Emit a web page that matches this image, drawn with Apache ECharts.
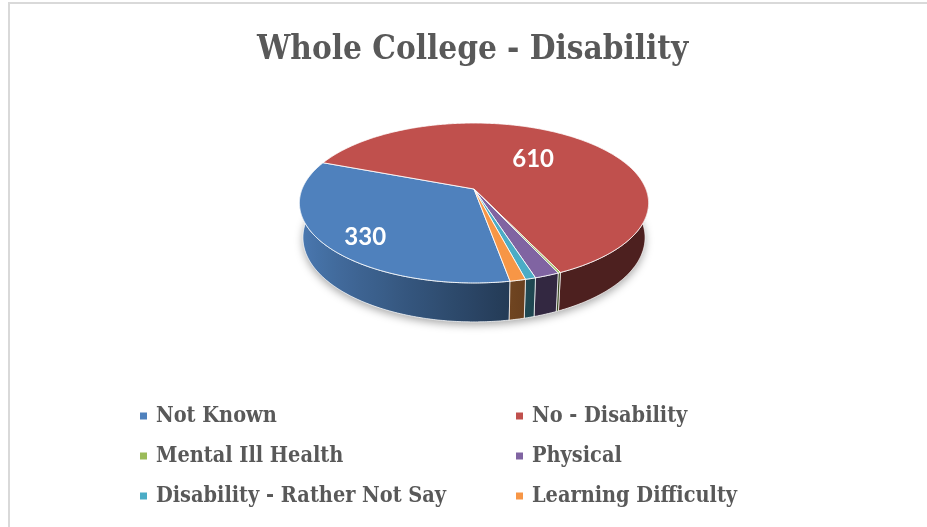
<!DOCTYPE html>
<html>
<head>
<meta charset="utf-8">
<title>Whole College - Disability</title>
<script src="https://cdn.jsdelivr.net/npm/echarts@6/dist/echarts.min.js"></script>
<style>
  html, body { margin: 0; padding: 0; background: #ffffff; }
  #chart { width: 927px; height: 527px; }
</style>
</head>
<body>
<div id="chart"></div>
<script>
// Student counts by disability status, whole college
const categories = ['Not Known', 'No - Disability', 'Mental Ill Health', 'Physical', 'Disability - Rather Not Say', 'Learning Difficulty'];
const counts = [330, 610, 2, 19, 8, 12];
const sliceColors = ['#4F81BD', '#C0504D', '#9BBB59', '#8064A2', '#4BACC6', '#F79646'];
const chartTitle = 'Whole College - Disability';

const total = counts.reduce((s, v) => s + v, 0);

// Perspective view of a flat disc (radius 1) seen from above and in front
const view = {
  centerX: 474,
  centerY: 189,
  focal: 878.5,
  distance: 5.11,
  tiltDeg: 26.8,
  thickness: 0.227,
  startDeg: 170          // first slice starts here, clockwise from the back
};
const cosT = Math.cos(view.tiltDeg * Math.PI / 180);
const sinT = Math.sin(view.tiltDeg * Math.PI / 180);

// x to the right, y away from the viewer, z up
function project(x, y, z) {
  const depth = view.distance + y * cosT - z * sinT;
  const up = y * sinT + z * cosT;
  return [view.centerX + view.focal * x / depth, view.centerY - view.focal * up / depth];
}
function rimPoint(deg, z) {
  const r = deg * Math.PI / 180;
  return project(Math.sin(r), Math.cos(r), z);
}
function arcAngles(a, b) {
  const n = Math.max(2, Math.ceil((b - a) / 0.5));
  const out = [];
  for (let k = 0; k <= n; k++) out.push(a + (b - a) * k / n);
  return out;
}
function darken(hex, f) {
  const n = parseInt(hex.slice(1), 16);
  const r = Math.round(((n >> 16) & 255) * f);
  const g = Math.round(((n >> 8) & 255) * f);
  const b = Math.round((n & 255) * f);
  return 'rgb(' + r + ',' + g + ',' + b + ')';
}
// light comes from the left: the side wall brightens as it turns left
function wallShade(deg) {
  const s = Math.sin(deg * Math.PI / 180);
  return s >= 0.3 ? 0.40 : 0.40 + (0.3 - s) * 0.43;
}
// label placement inside the top face: [radius, angle shift]
function labelSpot(share) {
  return share > 0.5 ? [0.55, -1] : [0.8, -5];
}

function renderSlice(params, api) {
  const idx = params.seriesIndex;
  const value = api.value(0);
  const color = sliceColors[idx];
  let before = 0;
  for (let i = 0; i < idx; i++) before += counts[i];
  const a = view.startDeg + before / total * 360;
  const b = a + value / total * 360;
  const children = [];

  if (idx === 0) {
    // soft shadow under the whole disc
    const base = arcAngles(0, 360).map(d => rimPoint(d, -view.thickness));
    children.push({
      type: 'polygon', z2: 0, silent: true,
      shape: { points: base },
      style: { fill: '#ffffff', shadowBlur: 9, shadowOffsetY: 3, shadowColor: 'rgba(0,0,0,0.35)' }
    });
  }

  // front-facing side walls
  [[88, 272], [448, 632]].forEach(([lo, hi]) => {
    const s = Math.max(a, lo), e = Math.min(b, hi);
    if (e - s <= 0) return;
    const angles = arcAngles(s, e);
    const top = angles.map(d => rimPoint(d, 0));
    const bottom = angles.map(d => rimPoint(d, -view.thickness)).reverse();
    const pts = top.concat(bottom);
    const xs = pts.map(p => p[0]);
    const minX = Math.min.apply(null, xs), maxX = Math.max.apply(null, xs);
    const span = Math.max(maxX - minX, 1e-6);
    const stops = angles
      .filter((_, k) => k % 8 === 0 || k === angles.length - 1)
      .map(d => ({
        offset: Math.min(1, Math.max(0, (rimPoint(d, 0)[0] - minX) / span)),
        color: darken(color, wallShade(d))
      }))
      .sort((p, q) => p.offset - q.offset);
    children.push({
      type: 'polygon', z2: 2,
      shape: { points: pts },
      style: {
        fill: new echarts.graphic.LinearGradient(0, 0, 1, 0, stops),
        stroke: 'rgba(255,255,255,0.7)', lineWidth: 1
      }
    });
  });

  // top face
  const topPts = [project(0, 0, 0)].concat(arcAngles(a, b).map(d => rimPoint(d, 0)));
  children.push({
    type: 'polygon', z2: 10,
    shape: { points: topPts },
    style: { fill: color, stroke: 'rgba(255,255,255,0.85)', lineWidth: 1 }
  });

  // value label
  const share = value / total;
  if (share >= 0.05) {
    const spot = labelSpot(share);
    const mid = ((a + b) / 2 + spot[1]) * Math.PI / 180;
    const p = project(spot[0] * Math.sin(mid), spot[0] * Math.cos(mid), 0);
    children.push({
      type: 'text', z2: 20, x: p[0], y: p[1],
      style: {
        text: String(value), fill: '#ffffff',
        font: 'bold 24px Lato, "Open Sans", sans-serif',
        align: 'center', verticalAlign: 'middle'
      }
    });
  }
  return { type: 'group', children: children };
}

const chart = echarts.init(document.getElementById('chart'), null, { renderer: 'canvas' });
chart.setOption({
  animation: false,
  backgroundColor: '#ffffff',
  color: sliceColors,
  title: {
    text: chartTitle,
    left: 257,
    top: 34,
    padding: 0,
    textStyle: {
      fontFamily: '"DejaVu Serif Condensed", "DejaVu Serif", serif',
      fontWeight: 'bold',
      fontSize: 33,
      color: '#595959'
    }
  },
  legend: {
    data: categories,
    left: 135,
    top: 400,
    width: 760,
    orient: 'horizontal',
    icon: 'rect',
    itemWidth: 7,
    itemHeight: 7,
    itemGap: 18,
    selectedMode: false,
    textStyle: {
      fontFamily: '"DejaVu Serif Condensed", "DejaVu Serif", serif',
      fontWeight: 'bold',
      fontSize: 21.5,
      color: '#595959',
      width: 342,
      lineHeight: 18,
      padding: [0, 0, 0, 4]
    }
  },
  graphic: [{
    type: 'polyline', silent: true,
    shape: { points: [[9, 527], [9, 3], [927, 3]] },
    style: { stroke: '#d9d9d9', lineWidth: 2, fill: null }
  }],
  series: categories.map((name, i) => ({
    type: 'custom',
    name: name,
    coordinateSystem: 'none',
    renderItem: renderSlice,
    data: [[counts[i]]],
    itemStyle: { color: sliceColors[i] }
  }))
});
</script>
</body>
</html>
